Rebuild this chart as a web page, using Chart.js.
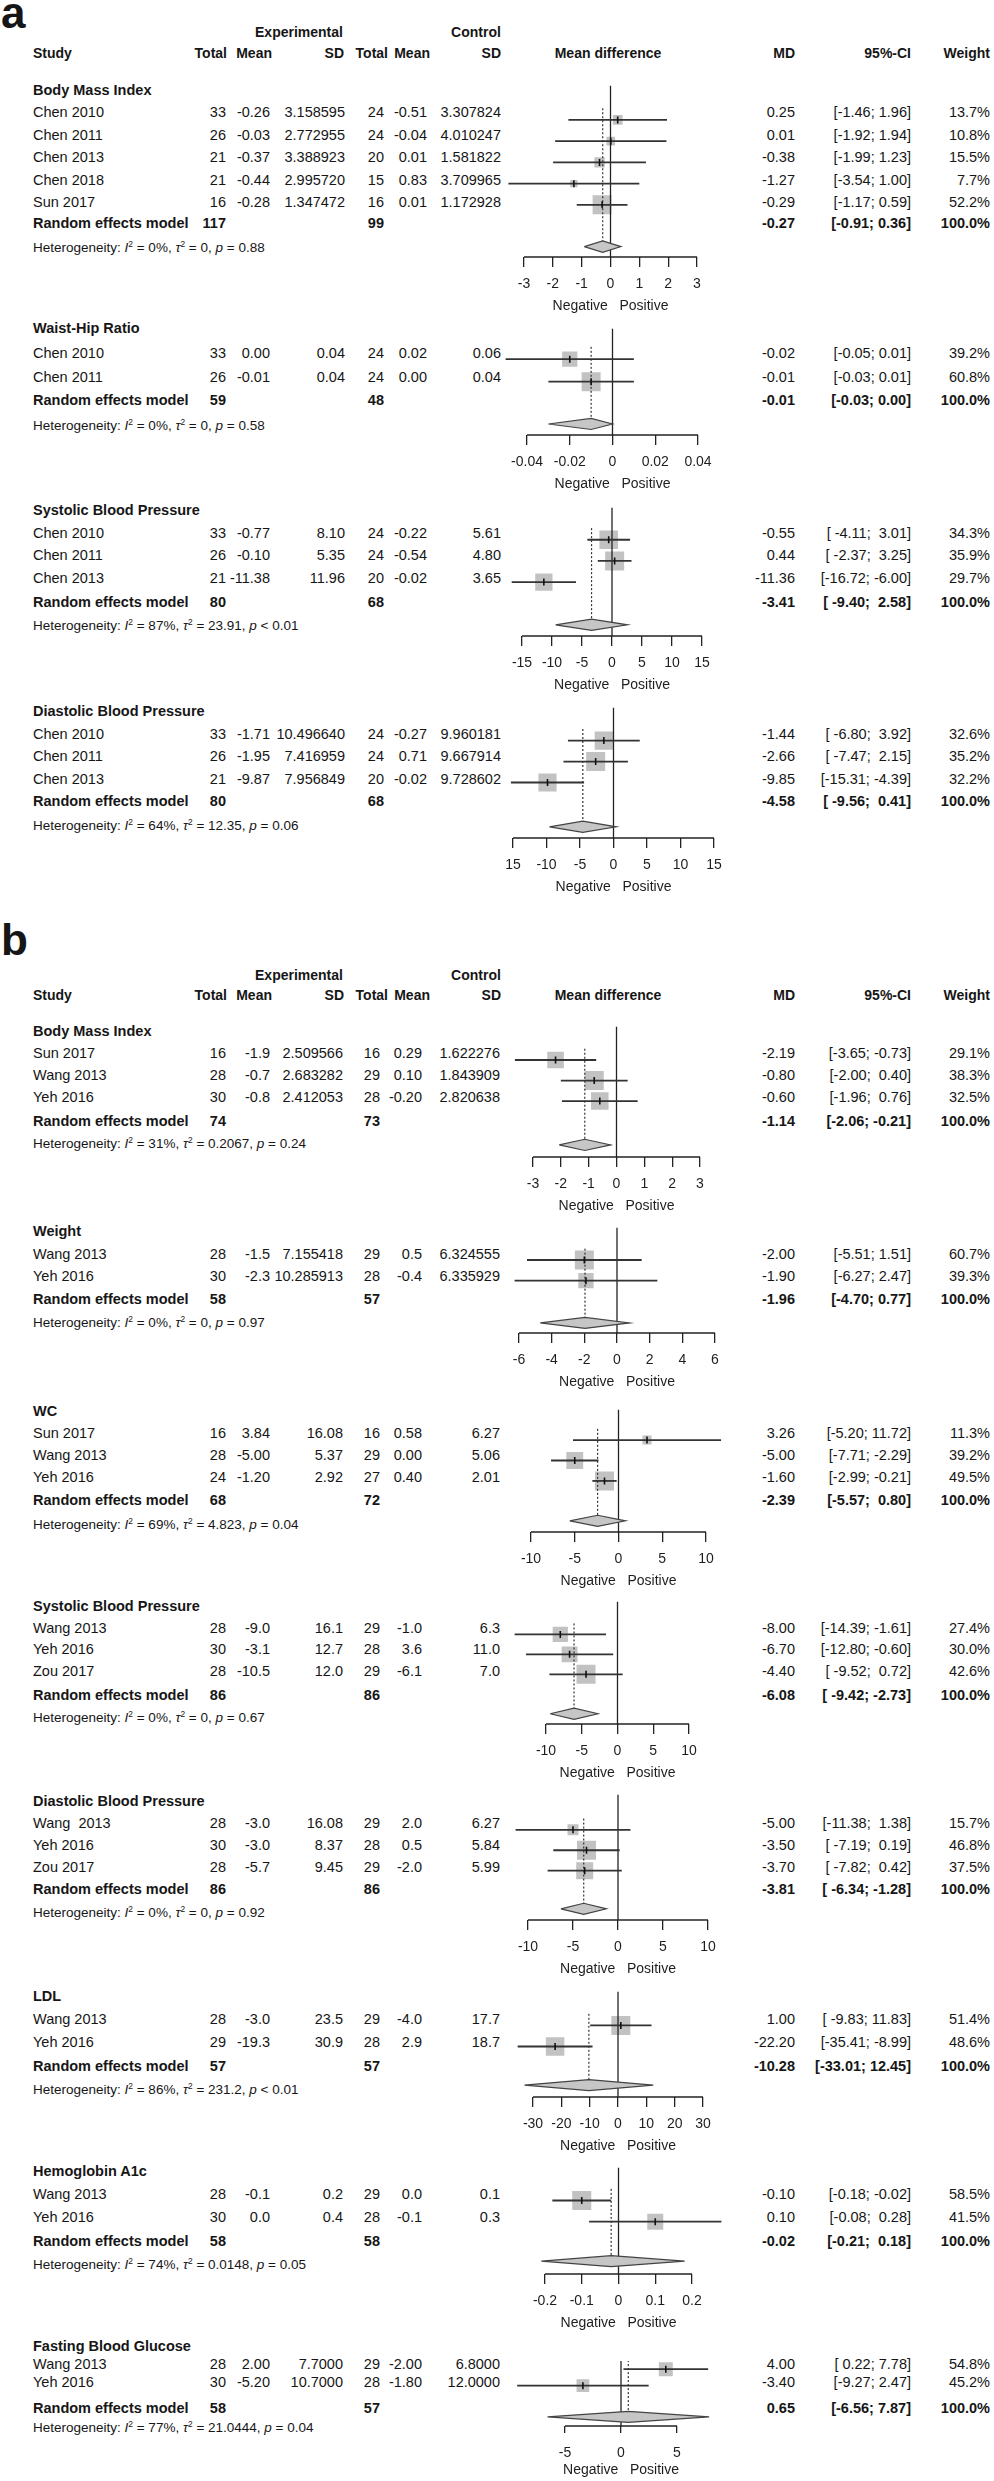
<!DOCTYPE html>
<html><head><meta charset="utf-8">
<script src="https://cdn.jsdelivr.net/npm/chart.js@4.4.1/dist/chart.umd.min.js"></script>
<style>
html,body{margin:0;padding:0;background:#fff;}
#page{position:relative;width:994px;height:2481px;overflow:hidden;font-family:'Liberation Sans',Arial,Helvetica,sans-serif;color:#161616;}
.t{position:absolute;white-space:pre;font-size:14.5px;line-height:18px;height:18px;}
.b{font-weight:bold;}
.hd{font-weight:bold;font-size:14px;}
.het{font-size:13.5px;}
.het sup{font-size:0.62em;line-height:0;vertical-align:0.55em;}
.lab{position:absolute;font-weight:bold;font-size:44px;line-height:44px;height:44px;}
canvas{position:absolute;}
</style></head>
<body><div id="page"></div>
<script>
// ======================= DATA =======================
// ---- panel a ----
const outcomeTitlesA = ['Body Mass Index','Waist-Hip Ratio','Systolic Blood Pressure','Diastolic Blood Pressure'];
const outcomeTitlesB = ['Body Mass Index','Weight','WC','Systolic Blood Pressure','Diastolic Blood Pressure','LDL','Hemoglobin A1c','Fasting Blood Glucose'];

const aBmiStudy = ['Chen 2010','Chen 2011','Chen 2013','Chen 2018','Sun 2017'];
const aBmiTable = [[33,'-0.26','3.158595',24,'-0.51','3.307824'],[26,'-0.03','2.772955',24,'-0.04','4.010247'],[21,'-0.37','3.388923',20,'0.01','1.581822'],[21,'-0.44','2.995720',15,'0.83','3.709965'],[16,'-0.28','1.347472',16,'0.01','1.172928']];
const aBmiMD = [0.25,0.01,-0.38,-1.27,-0.29];
const aBmiLo = [-1.46,-1.92,-1.99,-3.54,-1.17];
const aBmiHi = [1.96,1.94,1.23,1.00,0.59];
const aBmiW = [13.7,10.8,15.5,7.7,52.2];
const aBmiPooled = [-0.27,-0.91,0.36];
const aBmiTotals = [117,99];
const aBmiHet = ['0%','0','= 0.88'];
const aBmiTicks = [-3,-2,-1,0,1,2,3];
const aBmiTickLabels = ['-3','-2','-1','0','1','2','3'];

const aWhrStudy = ['Chen 2010','Chen 2011'];
const aWhrTable = [[33,'0.00','0.04',24,'0.02','0.06'],[26,'-0.01','0.04',24,'0.00','0.04']];
const aWhrMD = [-0.02,-0.01];
const aWhrLo = [-0.05,-0.03];
const aWhrHi = [0.01,0.01];
const aWhrW = [39.2,60.8];
const aWhrPooled = [-0.01,-0.03,0.00];
const aWhrTotals = [59,48];
const aWhrHet = ['0%','0','= 0.58'];
const aWhrTicks = [-0.04,-0.02,0,0.02,0.04];
const aWhrTickLabels = ['-0.04','-0.02','0','0.02','0.04'];

const aSbpStudy = ['Chen 2010','Chen 2011','Chen 2013'];
const aSbpTable = [[33,'-0.77','8.10',24,'-0.22','5.61'],[26,'-0.10','5.35',24,'-0.54','4.80'],[21,'-11.38','11.96',20,'-0.02','3.65']];
const aSbpMD = [-0.55,0.44,-11.36];
const aSbpLo = [-4.11,-2.37,-16.72];
const aSbpHi = [3.01,3.25,-6.00];
const aSbpW = [34.3,35.9,29.7];
const aSbpPooled = [-3.41,-9.40,2.58];
const aSbpTotals = [80,68];
const aSbpHet = ['87%','23.91','< 0.01'];
const aSbpTicks = [-15,-10,-5,0,5,10,15];
const aSbpTickLabels = ['-15','-10','-5','0','5','10','15'];

const aDbpStudy = ['Chen 2010','Chen 2011','Chen 2013'];
const aDbpTable = [[33,'-1.71','10.496640',24,'-0.27','9.960181'],[26,'-1.95','7.416959',24,'0.71','9.667914'],[21,'-9.87','7.956849',20,'-0.02','9.728602']];
const aDbpMD = [-1.44,-2.66,-9.85];
const aDbpLo = [-6.80,-7.47,-15.31];
const aDbpHi = [3.92,2.15,-4.39];
const aDbpW = [32.6,35.2,32.2];
const aDbpPooled = [-4.58,-9.56,0.41];
const aDbpTotals = [80,68];
const aDbpHet = ['64%','12.35','= 0.06'];
const aDbpTicks = [-15,-10,-5,0,5,10,15];
const aDbpTickLabels = ['15','-10','-5','0','5','10','15'];

// ---- panel b ----
const bBmiStudy = ['Sun 2017','Wang 2013','Yeh 2016'];
const bBmiTable = [[16,'-1.9','2.509566',16,'0.29','1.622276'],[28,'-0.7','2.683282',29,'0.10','1.843909'],[30,'-0.8','2.412053',28,'-0.20','2.820638']];
const bBmiMD = [-2.19,-0.80,-0.60];
const bBmiLo = [-3.65,-2.00,-1.96];
const bBmiHi = [-0.73,0.40,0.76];
const bBmiW = [29.1,38.3,32.5];
const bBmiPooled = [-1.14,-2.06,-0.21];
const bBmiTotals = [74,73];
const bBmiHet = ['31%','0.2067','= 0.24'];
const bBmiTicks = [-3,-2,-1,0,1,2,3];
const bBmiTickLabels = ['-3','-2','-1','0','1','2','3'];

const bWtStudy = ['Wang 2013','Yeh 2016'];
const bWtTable = [[28,'-1.5','7.155418',29,'0.5','6.324555'],[30,'-2.3','10.285913',28,'-0.4','6.335929']];
const bWtMD = [-2.00,-1.90];
const bWtLo = [-5.51,-6.27];
const bWtHi = [1.51,2.47];
const bWtW = [60.7,39.3];
const bWtPooled = [-1.96,-4.70,0.77];
const bWtTotals = [58,57];
const bWtHet = ['0%','0','= 0.97'];
const bWtTicks = [-6,-4,-2,0,2,4,6];
const bWtTickLabels = ['-6','-4','-2','0','2','4','6'];

const bWcStudy = ['Sun 2017','Wang 2013','Yeh 2016'];
const bWcTable = [[16,'3.84','16.08',16,'0.58','6.27'],[28,'-5.00','5.37',29,'0.00','5.06'],[24,'-1.20','2.92',27,'0.40','2.01']];
const bWcMD = [3.26,-5.00,-1.60];
const bWcLo = [-5.20,-7.71,-2.99];
const bWcHi = [11.72,-2.29,-0.21];
const bWcW = [11.3,39.2,49.5];
const bWcPooled = [-2.39,-5.57,0.80];
const bWcTotals = [68,72];
const bWcHet = ['69%','4.823','= 0.04'];
const bWcTicks = [-10,-5,0,5,10];
const bWcTickLabels = ['-10','-5','0','5','10'];

const bSbpStudy = ['Wang 2013','Yeh 2016','Zou 2017'];
const bSbpTable = [[28,'-9.0','16.1',29,'-1.0','6.3'],[30,'-3.1','12.7',28,'3.6','11.0'],[28,'-10.5','12.0',29,'-6.1','7.0']];
const bSbpMD = [-8.00,-6.70,-4.40];
const bSbpLo = [-14.39,-12.80,-9.52];
const bSbpHi = [-1.61,-0.60,0.72];
const bSbpW = [27.4,30.0,42.6];
const bSbpPooled = [-6.08,-9.42,-2.73];
const bSbpTotals = [86,86];
const bSbpHet = ['0%','0','= 0.67'];
const bSbpTicks = [-10,-5,0,5,10];
const bSbpTickLabels = ['-10','-5','0','5','10'];

const bDbpStudy = ['Wang  2013','Yeh 2016','Zou 2017'];
const bDbpTable = [[28,'-3.0','16.08',29,'2.0','6.27'],[30,'-3.0','8.37',28,'0.5','5.84'],[28,'-5.7','9.45',29,'-2.0','5.99']];
const bDbpMD = [-5.00,-3.50,-3.70];
const bDbpLo = [-11.38,-7.19,-7.82];
const bDbpHi = [1.38,0.19,0.42];
const bDbpW = [15.7,46.8,37.5];
const bDbpPooled = [-3.81,-6.34,-1.28];
const bDbpTotals = [86,86];
const bDbpHet = ['0%','0','= 0.92'];
const bDbpTicks = [-10,-5,0,5,10];
const bDbpTickLabels = ['-10','-5','0','5','10'];

const bLdlStudy = ['Wang 2013','Yeh 2016'];
const bLdlTable = [[28,'-3.0','23.5',29,'-4.0','17.7'],[29,'-19.3','30.9',28,'2.9','18.7']];
const bLdlMD = [1.00,-22.20];
const bLdlLo = [-9.83,-35.41];
const bLdlHi = [11.83,-8.99];
const bLdlW = [51.4,48.6];
const bLdlPooled = [-10.28,-33.01,12.45];
const bLdlTotals = [57,57];
const bLdlHet = ['86%','231.2','< 0.01'];
const bLdlTicks = [-30,-20,-10,0,10,20,30];
const bLdlTickLabels = ['-30','-20','-10','0','10','20','30'];

const bHbStudy = ['Wang 2013','Yeh 2016'];
const bHbTable = [[28,'-0.1','0.2',29,'0.0','0.1'],[30,'0.0','0.4',28,'-0.1','0.3']];
const bHbMD = [-0.10,0.10];
const bHbLo = [-0.18,-0.08];
const bHbHi = [-0.02,0.28];
const bHbW = [58.5,41.5];
const bHbPooled = [-0.02,-0.21,0.18];
const bHbTotals = [58,58];
const bHbHet = ['74%','0.0148','= 0.05'];
const bHbTicks = [-0.2,-0.1,0,0.1,0.2];
const bHbTickLabels = ['-0.2','-0.1','0','0.1','0.2'];

const bFbgStudy = ['Wang 2013','Yeh 2016'];
const bFbgTable = [[28,'2.00','7.7000',29,'-2.00','6.8000'],[30,'-5.20','10.7000',28,'-1.80','12.0000']];
const bFbgMD = [4.00,-3.40];
const bFbgLo = [0.22,-9.27];
const bFbgHi = [7.78,2.47];
const bFbgW = [54.8,45.2];
const bFbgPooled = [0.65,-6.56,7.87];
const bFbgTotals = [58,57];
const bFbgHet = ['77%','21.0444','= 0.04'];
const bFbgTicks = [-5,0,5];
const bFbgTickLabels = ['-5','0','5'];

const headerCols = ['Study','Total','Mean','SD','Total','Mean','SD','Mean difference','MD','95%-CI','Weight'];
const groupHeads = ['Experimental','Control'];
const panelLetters = ['a','b'];

// ======================= ASSEMBLY (references to data) =======================
const panels = [
 {title:outcomeTitlesA[0],study:aBmiStudy,table:aBmiTable,md:aBmiMD,lo:aBmiLo,hi:aBmiHi,w:aBmiW,pooled:aBmiPooled,totals:aBmiTotals,het:aBmiHet,ticks:aBmiTicks,tl:aBmiTickLabels,sec:0},
 {title:outcomeTitlesA[1],study:aWhrStudy,table:aWhrTable,md:aWhrMD,lo:aWhrLo,hi:aWhrHi,w:aWhrW,pooled:aWhrPooled,totals:aWhrTotals,het:aWhrHet,ticks:aWhrTicks,tl:aWhrTickLabels,sec:0},
 {title:outcomeTitlesA[2],study:aSbpStudy,table:aSbpTable,md:aSbpMD,lo:aSbpLo,hi:aSbpHi,w:aSbpW,pooled:aSbpPooled,totals:aSbpTotals,het:aSbpHet,ticks:aSbpTicks,tl:aSbpTickLabels,sec:0},
 {title:outcomeTitlesA[3],study:aDbpStudy,table:aDbpTable,md:aDbpMD,lo:aDbpLo,hi:aDbpHi,w:aDbpW,pooled:aDbpPooled,totals:aDbpTotals,het:aDbpHet,ticks:aDbpTicks,tl:aDbpTickLabels,sec:0},
 {title:outcomeTitlesB[0],study:bBmiStudy,table:bBmiTable,md:bBmiMD,lo:bBmiLo,hi:bBmiHi,w:bBmiW,pooled:bBmiPooled,totals:bBmiTotals,het:bBmiHet,ticks:bBmiTicks,tl:bBmiTickLabels,sec:1},
 {title:outcomeTitlesB[1],study:bWtStudy,table:bWtTable,md:bWtMD,lo:bWtLo,hi:bWtHi,w:bWtW,pooled:bWtPooled,totals:bWtTotals,het:bWtHet,ticks:bWtTicks,tl:bWtTickLabels,sec:1},
 {title:outcomeTitlesB[2],study:bWcStudy,table:bWcTable,md:bWcMD,lo:bWcLo,hi:bWcHi,w:bWcW,pooled:bWcPooled,totals:bWcTotals,het:bWcHet,ticks:bWcTicks,tl:bWcTickLabels,sec:1},
 {title:outcomeTitlesB[3],study:bSbpStudy,table:bSbpTable,md:bSbpMD,lo:bSbpLo,hi:bSbpHi,w:bSbpW,pooled:bSbpPooled,totals:bSbpTotals,het:bSbpHet,ticks:bSbpTicks,tl:bSbpTickLabels,sec:1},
 {title:outcomeTitlesB[4],study:bDbpStudy,table:bDbpTable,md:bDbpMD,lo:bDbpLo,hi:bDbpHi,w:bDbpW,pooled:bDbpPooled,totals:bDbpTotals,het:bDbpHet,ticks:bDbpTicks,tl:bDbpTickLabels,sec:1},
 {title:outcomeTitlesB[5],study:bLdlStudy,table:bLdlTable,md:bLdlMD,lo:bLdlLo,hi:bLdlHi,w:bLdlW,pooled:bLdlPooled,totals:bLdlTotals,het:bLdlHet,ticks:bLdlTicks,tl:bLdlTickLabels,sec:1},
 {title:outcomeTitlesB[6],study:bHbStudy,table:bHbTable,md:bHbMD,lo:bHbLo,hi:bHbHi,w:bHbW,pooled:bHbPooled,totals:bHbTotals,het:bHbHet,ticks:bHbTicks,tl:bHbTickLabels,sec:1},
 {title:outcomeTitlesB[7],study:bFbgStudy,table:bFbgTable,md:bFbgMD,lo:bFbgLo,hi:bFbgHi,w:bFbgW,pooled:bFbgPooled,totals:bFbgTotals,het:bFbgHet,ticks:bFbgTicks,tl:bFbgTickLabels,sec:1}
];

// ======================= LAYOUT (pixels, separate from data) =======================
const layout = [
 {T:90,  rowH:22.4, randY:223, hetY:248, diaY:246, top:76,  axis:257, xL:524, xR:697},
 {T:328, rowH:24.5, randY:400, hetY:426, diaY:423, top:319, axis:435, xL:527, xR:698},
 {T:510, rowH:22.7, randY:602, hetY:626, diaY:624, top:498, axis:636, xL:522, xR:702},
 {T:711, rowH:22.5, randY:801, hetY:826, diaY:826, top:698, axis:838, xL:513, xR:714},
 {T:1031,rowH:22,   randY:1121,hetY:1144,diaY:1144,top:1017,axis:1157,xL:533, xR:700},
 {T:1231,rowH:22.5, randY:1299,hetY:1323,diaY:1322,top:1218,axis:1333,xL:519, xR:715},
 {T:1411,rowH:22,   randY:1500,hetY:1525,diaY:1520,top:1400,axis:1532,xL:531, xR:706},
 {T:1606,rowH:21.5, randY:1695,hetY:1718,diaY:1713,top:1592,axis:1724,xL:546, xR:689},
 {T:1801,rowH:22,   randY:1889,hetY:1913,diaY:1908,top:1785,axis:1920,xL:528, xR:708},
 {T:1996,rowH:23,   randY:2066,hetY:2090,diaY:2084,top:1982,axis:2097,xL:533, xR:703},
 {T:2171,rowH:23,   randY:2241,hetY:2265,diaY:2260,top:2158,axis:2274,xL:545, xR:692},
 {T:2346,rowH:18,   randY:2408,hetY:2428,diaY:2416,top:2355,axis:2426,xL:565, xR:677, tick:7, titleOff:44, maxSide:14}
];
const secLayout = [
 {letterBase:28, groupY:32, headY:53, cols:[226,270,345,384,427,501]},
 {letterBase:955, groupY:975, headY:995, cols:[226,270,343,380,422,500]}
];
const headX = [{a:'l',x:33},{a:'r',x:227},{a:'r',x:272},{a:'r',x:344},{a:'r',x:388},{a:'r',x:430},{a:'r',x:501},{a:'c',x:608},{a:'r',x:795},{a:'r',x:911},{a:'r',x:990}];
const groupX = [299,476];
const X_STUDY = 33, X_MD = 795, X_CI = 911, X_W = 990;

// ======================= RENDER =======================
Chart.defaults.font.family = "'Liberation Sans', Arial, Helvetica, sans-serif";
Chart.defaults.color = '#1e1e1e';
const page = document.getElementById('page');

function addText(str, x, y, align, cls, html) {
  const d = document.createElement('div');
  d.className = 't' + (cls ? ' ' + cls : '');
  if (html) d.innerHTML = str; else d.textContent = str;
  d.style.top = (y - 9) + 'px';
  if (align === 'l') d.style.left = x + 'px';
  else if (align === 'r') d.style.right = (994 - x) + 'px';
  else { d.style.left = (x - 150) + 'px'; d.style.width = '300px'; d.style.textAlign = 'center'; }
  page.appendChild(d);
}
function fmtCI(los, his) {
  const l = los.map(v => v.toFixed(2)), h = his.map(v => v.toFixed(2));
  const wl = Math.max(...l.map(s => s.length)), wh = Math.max(...h.map(s => s.length));
  return l.map((s, i) => '[' + s.padStart(wl, ' ') + '; ' + h[i].padStart(wh, ' ') + ']');
}

// section headers
secLayout.forEach((S, k) => {
  const d = document.createElement('div');
  d.className = 'lab';
  d.textContent = panelLetters[k];
  d.style.left = '1px';
  d.style.top = (S.letterBase - 37.2) + 'px';
  page.appendChild(d);
  groupHeads.forEach((g, j) => addText(g, groupX[j], S.groupY, 'c', 'hd'));
  headerCols.forEach((h, j) => addText(h, headX[j].x, S.headY, headX[j].a, 'hd'));
});

panels.forEach((p, k) => {
  const L = layout[k];
  const cols = secLayout[p.sec].cols;
  const n = p.study.length;
  const ci = fmtCI(p.lo.concat([p.pooled[1]]), p.hi.concat([p.pooled[2]]));
  // table text
  addText(p.title, X_STUDY, L.T, 'l', 'b');
  p.study.forEach((s, i) => {
    const y = L.T + L.rowH * (i + 1);
    addText(s, X_STUDY, y, 'l');
    p.table[i].forEach((v, j) => addText(String(v), cols[j], y, 'r'));
    addText(p.md[i].toFixed(2), X_MD, y, 'r');
    addText(ci[i], X_CI, y, 'r');
    addText(p.w[i].toFixed(1) + '%', X_W, y, 'r');
  });
  addText('Random effects model', X_STUDY, L.randY, 'l', 'b');
  addText(String(p.totals[0]), cols[0], L.randY, 'r', 'b');
  addText(String(p.totals[1]), cols[3], L.randY, 'r', 'b');
  addText(p.pooled[0].toFixed(2), X_MD, L.randY, 'r', 'b');
  addText(ci[n], X_CI, L.randY, 'r', 'b');
  addText('100.0%', X_W, L.randY, 'r', 'b');
  addText('Heterogeneity: <i>I</i><sup>2</sup> = ' + p.het[0] + ', <i>\u03c4</i><sup>2</sup> = ' + p.het[1] + ', <i>p</i> ' + p.het[2],
          X_STUDY, L.hetY, 'l', 'het', true);

  // ---- chart ----
  const m = 0.3;
  const tMin = p.ticks[0], tMax = p.ticks[p.ticks.length - 1];
  const R = tMax - tMin, span = L.xR - L.xL;
  const areaL = L.xL - m * span, areaR = L.xR + m * span;
  const cLeft = 430, cW = 370;
  const tick = L.tick || 10;
  const titleOff = L.titleOff || 49;
  const axisH = titleOff + 8.4;
  const padTop = 4;
  const area = L.axis - L.top;
  const cHraw = padTop + area + axisH;
  const cH = Math.ceil(cHraw);
  const padBottom = cH - cHraw;
  const yMin = (L.top - L.T) / L.rowH, yMax = (L.axis - L.T) / L.rowH;
  const dRow = (L.diaY - L.T) / L.rowH;
  const hh = 6 / L.rowH;
  const maxSide = L.maxSide || 19;
  const wMax = Math.max(...p.w);

  const cv = document.createElement('canvas');
  cv.width = cW; cv.height = cH;
  cv.style.left = cLeft + 'px'; cv.style.top = (L.top - padTop) + 'px';
  cv.style.width = cW + 'px'; cv.style.height = cH + 'px';
  page.appendChild(cv);

  const ds = [];
  // squares (weights)
  ds.push({data: p.md.map((v, i) => ({x: v, y: i + 1})), showLine: false, pointStyle: 'rect',
    pointRadius: p.w.map(w => maxSide * Math.sqrt(w / wMax) / 1.41421), pointBackgroundColor: '#c2c2c2',
    pointBorderWidth: 0, pointBorderColor: 'rgba(0,0,0,0)', order: 7});
  // dashed pooled estimate line
  ds.push({data: [{x: p.pooled[0], y: 0.45}, {x: p.pooled[0], y: dRow}], showLine: true, borderDash: [2, 2],
    borderColor: '#333', borderWidth: 1.2, pointRadius: 0, order: 6});
  // zero line
  ds.push({data: [{x: 0, y: yMin}, {x: 0, y: yMax}], showLine: true, borderColor: '#222', borderWidth: 1.3, pointRadius: 0, order: 5});
  // CI lines
  p.md.forEach((v, i) => ds.push({data: [{x: p.lo[i], y: i + 1}, {x: p.hi[i], y: i + 1}], showLine: true,
    borderColor: '#333', borderWidth: 1.8, pointRadius: 0, clip: false, order: 4}));
  // diamond
  ds.push({data: [{x: p.pooled[1], y: dRow}, {x: p.pooled[0], y: dRow - hh}, {x: p.pooled[2], y: dRow}, {x: p.pooled[0], y: dRow + hh}, {x: p.pooled[1], y: dRow}],
    showLine: true, fill: 'shape', backgroundColor: '#c6c6c6', borderColor: '#444', borderWidth: 1.2, pointRadius: 0, clip: false, order: 3});
  // axis line over tick range
  ds.push({data: [{x: tMin, y: yMax}, {x: tMax, y: yMax}], showLine: true, borderColor: '#222', borderWidth: 1.3, pointRadius: 0, clip: false, order: 2});
  // estimate ticks
  ds.push({data: p.md.map((v, i) => ({x: v, y: i + 1})), showLine: false, pointStyle: 'line', pointRotation: 90,
    pointRadius: 3.5, pointBorderColor: '#111', pointBorderWidth: 1.6, order: 1});

  const labels = p.tl, tvals = p.ticks;
  new Chart(cv, {
    type: 'scatter',
    data: {datasets: ds},
    options: {
      responsive: false, animation: false, events: [],
      layout: {padding: {left: areaL - cLeft, right: cLeft + cW - areaR, top: padTop, bottom: padBottom}},
      plugins: {legend: {display: false}, tooltip: {enabled: false}},
      scales: {
        x: {type: 'linear', position: 'bottom', min: tMin - m * R, max: tMax + m * R,
          border: {display: false},
          grid: {display: true, drawOnChartArea: false, drawTicks: true, tickLength: tick, color: '#222', lineWidth: 1.3},
          ticks: {autoSkip: false, maxRotation: 0, padding: 27 - tick - 8.4, color: '#1e1e1e', font: {size: 14},
            callback: (v, i) => labels[i]},
          afterBuildTicks: s => { s.ticks = tvals.map(v => ({value: v})); },
          afterFit: s => { s.height = axisH; },
          title: {display: true, text: 'Negative   Positive', color: '#1e1e1e', font: {size: 14}, padding: 0}
        },
        y: {type: 'linear', display: false, reverse: true, min: yMin, max: yMax}
      }
    }
  });
});
</script>
</body></html>
